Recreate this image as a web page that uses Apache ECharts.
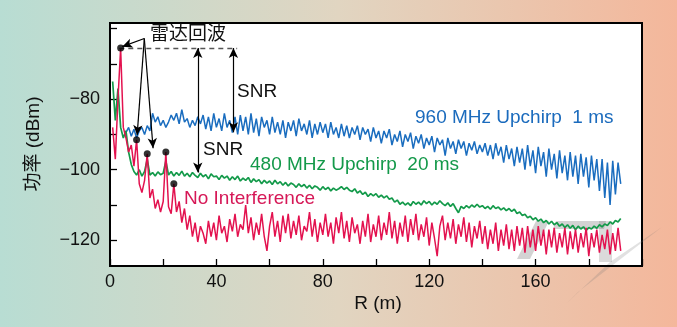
<!DOCTYPE html>
<html>
<head>
<meta charset="utf-8">
<script src="https://cdn.jsdelivr.net/npm/echarts@6/dist/echarts.min.js"></script>
<style>
html,body{margin:0;padding:0;}
#c{width:677px;height:327px;}
</style>
</head>
<body>
<div id="c"></div>
<script>
// Range samples (m)
const rangeM = [1,2,3,4,5,6,7,8,9,10,11,12,13,14,15,16,17,18,19,20,21,22,23,24,25,26,27,28,29,30,
31,32,33,34,35,36,37,38,39,40,41,42,43,44,45,46,47,48,49,50,51,52,53,54,55,56,57,58,59,60,
61,62,63,64,65,66,67,68,69,70,71,72,73,74,75,76,77,78,79,80,81,82,83,84,85,86,87,88,89,90,
91,92,93,94,95,96,97,98,99,100,101,102,103,104,105,106,107,108,109,110,111,112,113,114,115,116,117,118,119,120,
121,122,123,124,125,126,127,128,129,130,131,132,133,134,135,136,137,138,139,140,141,142,143,144,145,146,147,148,149,150,
151,152,153,154,155,156,157,158,159,160,161,162,163,164,165,166,167,168,169,170,171,172,173,174,175,176,177,178,179,180,
181,182,183,184,185,186,187,188,189,190,191,192];

// No Interference (dBm), R = 1..192
const noInterference = [-88,-97,-80,-65.5,-88,-91,-95,-93,-99,-91.5,-104,-106.5,-103,-95.5,-108,-105.5,-111,-108.5,-112,-109,
-95,-110.5,-112.5,-104,-112,-109,-115,-111,-117,-113,-119,-115,-120.5,-116,-118,-121,-114.5,-119,-115,-120,
-113,-118,-116,-120.5,-114,-117.5,-112.5,-119,-115.5,-117,-110,-118,-113.5,-120,-115,-118.5,-112.5,-119,-123,-116,
-112,-119,-114.5,-120.5,-113,-118,-112.5,-119.5,-114.5,-118.5,-113,-120,-116,-117.5,-112,-119,-114,-120.5,-115,-118.5,
-112.5,-119,-115,-121,-113.5,-118,-112,-119.5,-114.5,-120.5,-113.5,-118,-115.5,-121,-114.5,-119,-112.5,-120.5,-115.5,-119,
-113,-120,-115,-118.5,-112,-119.5,-114.5,-121,-115,-119,-113,-120.5,-114,-118.5,-112.5,-120,-115.5,-119,-113.5,-121.5,
-115,-119.5,-124.5,-116,-113,-120,-115,-119.5,-114,-121,-115.5,-119,-113.5,-120.5,-115,-122,-116,-119.5,-114.5,-121,
-116,-122.5,-117,-121,-115,-123,-117,-121.5,-115.5,-122.5,-117,-123,-116,-121.5,-116.5,-123.5,-116,-122,-117,-123,
-116,-121.5,-117,-124,-117,-122,-116.5,-123.5,-118,-122,-116.5,-124,-117.5,-122.5,-117,-123.5,-118,-122,-116.5,-124.5,
-118,-122,-117,-123.5,-118.5,-122.5,-117,-124,-118,-123,-116.5,-123];

// 480 MHz Upchirp 20 ms (dBm), R = 1..192
const upchirp480 = [-75,-86,-77,-88,-91,-89,-95,-98.5,-100.5,-101.5,-100,-101.8,-100.5,-97,-101.5,-100.8,-101.8,-100.6,-101.4,-101,
-97.5,-101.5,-100.5,-101.8,-100.8,-101.6,-100.4,-101.8,-101,-102,-100.8,-101.6,-102.2,-101,-102,-101.4,-102.6,-101.2,-102,-101.8,
-102.8,-101.6,-102.4,-101.8,-103,-102,-102.8,-101.8,-103.2,-102.4,-103,-102.2,-103.6,-102.6,-103.4,-102.8,-104,-103,-103.8,-103.2,
-104.2,-103,-104,-103.4,-104.4,-103.6,-104.6,-103.8,-104.2,-105,-104,-104.8,-104.2,-105.2,-104.4,-105.4,-104.6,-105,-105.8,-104.8,
-105.6,-105,-106,-105.2,-105.8,-105.4,-104.8,-105.6,-105,-105.8,-106.2,-105.4,-106.6,-106,-107,-106.4,-107.6,-106.8,-107.4,-106.8,
-107.8,-107.2,-108,-107.4,-108.4,-108,-109.2,-108.6,-109.8,-109.2,-110,-109.4,-110.2,-109,-109.8,-109.2,-110,-108.8,-109.6,-109,
-110,-109.2,-109.8,-108.8,-109.6,-110.2,-109.4,-110.4,-109.6,-111,-112.2,-110.4,-111,-110.2,-110.8,-110,-110.6,-109.8,-110.6,-110.2,
-111,-110.4,-111.2,-110.2,-111,-110.6,-111.4,-110.8,-111.6,-111,-111.8,-111.2,-112.4,-112,-113,-112.6,-113.6,-113.2,-114.2,-113.6,
-114.6,-114,-115,-114.4,-115.4,-114.6,-115.6,-115,-116,-115.4,-116.4,-115.6,-116.6,-115.8,-117,-116,-116.8,-116.2,-117.2,-116.4,
-116.8,-116,-116.6,-115.6,-116.2,-115.4,-115.8,-114.8,-115.4,-114.4,-114.8,-113.8];

// 960 MHz Upchirp 1 ms (dBm), R = 6..192
const upchirp960 = [-89.5,-88,-90.5,-88.5,-91,-89,-88,-90,-87.5,-89,-84,-86.5,-85,-87.5,-86,
-88,-86.5,-84.5,-86,-84,-87,-83,-86.5,-85.5,-88,-86,-87.5,-85,-87,-84.5,-88.5,-85,-89,-84,-88,
-85.5,-89,-84,-88,-86,-89.5,-85,-90,-84.5,-89,-85,-90,-84,-89.5,-85.5,-90.5,-85,-88,-86,-90,
-85,-89.5,-86.5,-90,-86,-91,-86.5,-89,-86,-90.5,-85.5,-89,-87,-90,-86,-91,-87,-90,-86.5,-89.5,
-87,-91,-86.5,-90,-88,-91,-87,-90.5,-87.5,-91,-88,-90,-87.5,-91.5,-88,-90,-88.5,-92,-88,-91,
-89,-92.5,-89,-91,-88.5,-93,-90,-92,-89,-93.5,-90,-92,-89.5,-94,-90.5,-92.5,-90,-94,-91,-93,
-90.5,-95,-91,-93,-91.5,-96,-91,-94,-92,-95.5,-91.5,-94,-92,-96,-92.5,-94.5,-92,-95.5,-93,-95,
-92.5,-96,-93,-97,-92.5,-96,-93.5,-98,-93,-97,-94,-99,-93.5,-98,-94,-100,-93,-99,-94.5,-101,
-93.5,-99,-95,-102,-94,-100,-95.5,-102.5,-94.5,-101,-96,-103,-95,-102,-96,-104,-95.5,-102,-96.5,-105,
-96,-103,-97,-106,-97,-108,-98,-110,-97.5,-107,-98,-104];
const upchirp960Start = 5; // index into rangeM (R = 6 m)

// radar echo markers
const echoR = [4, 10, 14, 21, 24];
const echoP = [-65.5, -91.5, -95.5, -95, -104];

// axis ticks
const xLabelValues = [0, 40, 80, 120, 160];
const yTickValues = [-120, -110, -100, -90, -80, -70, -60];
const yLabelValues = [-120, -100, -80];

const FONT = '"Liberation Sans", Arial, "Noto Sans CJK SC", sans-serif';

const chart = echarts.init(document.getElementById('c'), null, {renderer: 'canvas'});

const pairs = (vals, start) => vals.map((v, i) => [rangeM[i + start], v]);

const arrow = (x1, y1, x2, y2, s1, s2, style) => [
  {coord: [x1, y1], symbol: s1, lineStyle: style},
  {coord: [x2, y2], symbol: s2, lineStyle: style}
];
const solid = {color: '#000', width: 1.2, type: 'solid'};
const dashed = {color: '#555', width: 1.3, type: [5, 4]};

const option = {
  animation: false,
  backgroundColor: new echarts.graphic.LinearGradient(0, 0, 1, 0, [
    {offset: 0, color: '#b8ddd3'},
    {offset: 0.5, color: '#e1d5c1'},
    {offset: 1, color: '#f4b79b'}
  ]),
  grid: {
    left: 110, right: 35, top: 23, bottom: 61,
    show: true, backgroundColor: '#ffffff', borderColor: '#000', borderWidth: 2
  },
  xAxis: {
    type: 'value', min: 0, max: 200, interval: 20,
    axisLine: {show: true, lineStyle: {color: '#000', width: 2}},
    axisTick: {show: true, inside: true, length: 7, lineStyle: {color: '#000', width: 1.3}},
    axisLabel: {customValues: xLabelValues, fontSize: 18, color: '#111', margin: 7, fontFamily: FONT},
    splitLine: {show: false}
  },
  yAxis: {
    type: 'value', min: -127.3, max: -58.4,
    axisLine: {show: true, lineStyle: {color: '#000', width: 2}},
    axisTick: {show: true, inside: true, length: 7, customValues: yTickValues, lineStyle: {color: '#000', width: 1.3}},
    axisLabel: {customValues: yLabelValues, fontSize: 18, color: '#111', margin: 10, fontFamily: FONT,
      formatter: v => '\u2212' + Math.abs(v)},
    splitLine: {show: false}
  },
  series: [
    {
      name: '960 MHz Upchirp 1 ms', type: 'line', showSymbol: false, silent: true,
      data: pairs(upchirp960, upchirp960Start),
      lineStyle: {color: '#1a6dbf', width: 1.5}, itemStyle: {color: '#1a6dbf'}, z: 2
    },
    {
      name: '480 MHz Upchirp 20 ms', type: 'line', showSymbol: false, silent: true,
      data: pairs(upchirp480, 0),
      lineStyle: {color: '#139a4a', width: 1.7}, itemStyle: {color: '#139a4a'}, z: 3
    },
    {
      name: 'No Interference', type: 'line', showSymbol: false, silent: true,
      data: pairs(noInterference, 0),
      lineStyle: {color: '#e3124f', width: 1.5}, itemStyle: {color: '#e3124f'}, z: 4
    },
    {
      name: 'echo', type: 'scatter', silent: true, z: 6,
      data: echoR.map((r, i) => [r, echoP[i]]),
      symbolSize: 7, itemStyle: {color: '#000'},
      markLine: {
        silent: true, animation: false,
        symbolSize: [7, 10],
        label: {show: false},
        emphasis: {disabled: true},
        data: [
          arrow(3.5, -65.5, 47.8, -65.5, 'none', 'none', dashed),
          arrow(12.9, -62.8, 4.6, -65.1, 'none', 'arrow', solid),
          arrow(12.9, -62.8, 10.2, -90.2, 'none', 'arrow', solid),
          arrow(12.9, -62.8, 16.2, -93.9, 'none', 'arrow', solid),
          arrow(33, -65.5, 33, -100.8, 'arrow', 'arrow', solid),
          arrow(46.4, -65.5, 46.4, -89.4, 'arrow', 'arrow', solid)
        ]
      }
    }
  ],
  graphic: [
    {type: 'text', left: 150, top: 23, z: 10, silent: true,
      style: {text: '雷达回波', font: '19px "Noto Sans CJK SC", sans-serif', fill: '#111'}},
    {type: 'text', x: 237, y: 92, z: 10, silent: true,
      style: {text: 'SNR', font: '19px ' + FONT, fill: '#111', textVerticalAlign: 'middle'}},
    {type: 'text', x: 203, y: 150, z: 10, silent: true,
      style: {text: 'SNR', font: '19px ' + FONT, fill: '#111', textVerticalAlign: 'middle'}},
    {type: 'text', x: 415, y: 118, z: 10, silent: true,
      style: {text: '960 MHz Upchirp  1 ms', font: '19px ' + FONT, fill: '#1b6bbd', textVerticalAlign: 'middle'}},
    {type: 'text', x: 250, y: 165, z: 10, silent: true,
      style: {text: '480 MHz Upchirp  20 ms', font: '19px ' + FONT, fill: '#14994a', textVerticalAlign: 'middle'}},
    {type: 'text', x: 184, y: 199, z: 10, silent: true,
      style: {text: 'No Interference', font: '19px ' + FONT, fill: '#d61857', textVerticalAlign: 'middle'}},
    {type: 'text', x: 378, y: 304, z: 10, silent: true,
      style: {text: 'R (m)', font: '19px ' + FONT, fill: '#111', textAlign: 'center', textVerticalAlign: 'middle'}},
    {type: 'text', x: 34, y: 144, rotation: Math.PI / 2, z: 10, silent: true,
      style: {text: '功率 (dBm)', font: '19px ' + FONT, fill: '#111', textAlign: 'center', textVerticalAlign: 'middle'}},
    // faint watermark
    {type: 'group', z: 20, silent: true, children: [
      {type: 'polygon', shape: {points: [[517,259],[530,259],[549,221],[536,221]]}, style: {fill: 'rgba(110,110,110,0.3)'}},
      {type: 'polygon', shape: {points: [[556,221],[606,221],[604,229],[553,229]]}, style: {fill: 'rgba(110,110,110,0.3)'}},
      {type: 'polygon', shape: {points: [[599,221],[612,221],[612,262],[599,262]]}, style: {fill: 'rgba(110,110,110,0.25)'}},
      {type: 'polygon', shape: {points: [[566,304],[578,292],[662,227],[610,262]]}, style: {fill: 'rgba(120,120,120,0.22)'}}
    ]}
  ]
};
chart.setOption(option);
</script>
</body>
</html>
